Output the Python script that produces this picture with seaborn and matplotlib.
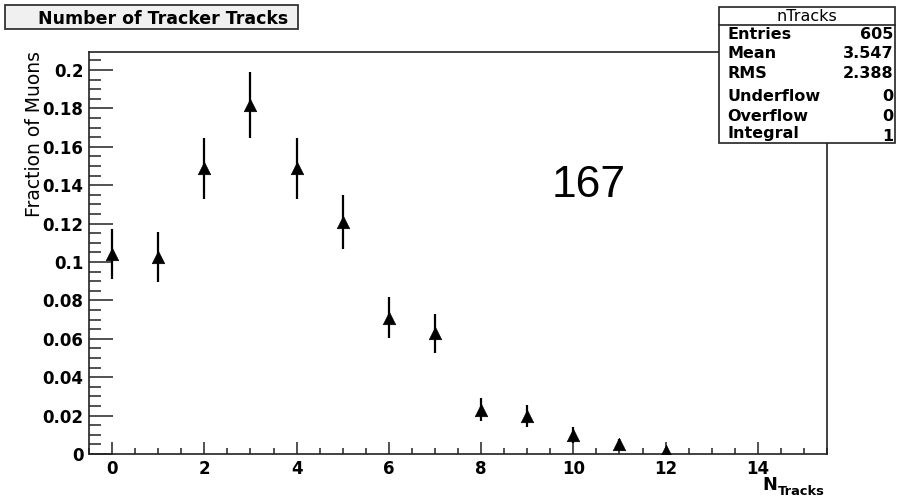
import numpy as np
import pandas as pd
import matplotlib
matplotlib.use("Agg")
import matplotlib.pyplot as plt
import seaborn as sns
from matplotlib.patches import Rectangle
from matplotlib.lines import Line2D
from matplotlib.ticker import MultipleLocator

# Histogram contents (number of tracker tracks per muon)
n_tracks = [0, 1, 2, 3, 4, 5, 6, 7, 8, 9, 10, 11, 12]
counts = [63, 62, 90, 110, 90, 73, 43, 38, 14, 12, 6, 3, 1]
entries = 605
# errors on the fraction
errors = [0.0131, 0.0130, 0.0157, 0.0173, 0.0157, 0.0141, 0.0108,
          0.0102, 0.0062, 0.0057, 0.0040, 0.0029, 0.0017]

stat_names = ["Entries", "Mean", "RMS", "Underflow", "Overflow", "Integral"]
stat_values = ["605", "3.547", "2.388", "0", "0", "1"]

df = pd.DataFrame({"n": n_tracks, "frac": np.array(counts) / entries, "err": errors})

sns.set_style("white")
plt.rcParams["font.family"] = ["DejaVu Sans"]
plt.rcParams["text.color"] = "black"

W, H = 897, 498
fig = plt.figure(figsize=(W / 100, H / 100), dpi=100)

def fx(px):
    return px / W

def fy(py):
    return (H - py) / H

# plot frame in pixels: left 89, right 827, top 52, bottom 454
ax = fig.add_axes([fx(89), fy(454), fx(827 - 89), (454 - 52) / H])

ax.errorbar(df["n"], df["frac"], yerr=df["err"], fmt="none",
            ecolor="black", elinewidth=1.6, capsize=0, zorder=2)
sns.scatterplot(data=df, x="n", y="frac", marker="^", s=80, color="black",
                edgecolor="black", linewidth=0.5, ax=ax, zorder=3, legend=False)

ax.set_xlim(-0.5, 15.5)
ax.set_ylim(0, 0.2094)
ax.set_xlabel("")
ax.set_ylabel("")

ax.xaxis.set_major_locator(MultipleLocator(2))
ax.xaxis.set_minor_locator(MultipleLocator(0.5))
ax.yaxis.set_major_locator(MultipleLocator(0.02))
ax.yaxis.set_minor_locator(MultipleLocator(0.005))
ax.set_xticks(range(0, 15, 2))
ax.set_xticklabels([str(v) for v in range(0, 15, 2)])
yt = [round(0.02 * i, 2) for i in range(11)]
ax.set_yticks(yt)
ax.set_yticklabels(["0" if v == 0 else f"{v:g}" for v in yt])

ax.tick_params(axis="both", which="both", left=True, bottom=True,
               right=False, top=False, color="#222222", labelcolor="black")
ax.tick_params(axis="y", which="major", direction="in", length=17, width=1.1,
               labelsize=12, pad=4)
ax.tick_params(axis="y", which="minor", direction="in", length=8.5, width=1.1)
ax.tick_params(axis="x", which="major", direction="in", length=8.5, width=1.1,
               labelsize=12, pad=4)
ax.tick_params(axis="x", which="minor", direction="in", length=4.3, width=1.1)
for lab in ax.get_xticklabels() + ax.get_yticklabels():
    lab.set_fontweight("bold")

for s in ax.spines.values():
    s.set_color("#222222")
    s.set_linewidth(1.2)

# axis titles
fig.text(fx(34), fy(134), "Fraction of Muons", rotation=90, ha="center",
         va="center", fontsize=13.5)
fig.text(fx(762), fy(490), "N", fontsize=12.8, fontweight="bold",
         ha="left", va="baseline")
fig.text(fx(778), fy(495), "Tracks", fontsize=9.4, fontweight="bold",
         ha="left", va="baseline")

# title box
fig.add_artist(Rectangle((fx(5), fy(29)), fx(293), 24 / H, transform=fig.transFigure,
                         facecolor="#f0f0f0", edgecolor="#333333", linewidth=1.3))
fig.text(fx(38), fy(24), "Number of Tracker Tracks", fontsize=12.5,
         fontweight="bold", ha="left", va="baseline")

# stats box
bx0, bx1, by0, by1 = 719, 895, 7, 143
fig.add_artist(Rectangle((fx(bx0), fy(by1)), fx(bx1 - bx0), (by1 - by0) / H,
                         transform=fig.transFigure, facecolor="white",
                         edgecolor="#222222", linewidth=1.2, zorder=5))
fig.add_artist(Line2D([fx(bx0), fx(bx1)], [fy(25), fy(25)], transform=fig.transFigure,
                      color="#222222", linewidth=1.2, zorder=6))
fig.text(fx((bx0 + bx1) / 2), fy(21), "nTracks", fontsize=11.5, ha="center",
         va="baseline", zorder=7)
row_y = [39, 58, 78, 101, 121, 138]
for name, val, yy in zip(stat_names, stat_values, row_y):
    fig.text(fx(727), fy(yy), name, fontsize=11.5, fontweight="bold",
             ha="left", va="baseline", zorder=7)
    off = 3 if name == "Integral" else 0
    fig.text(fx(893), fy(yy + off), val, fontsize=11.5, fontweight="bold",
             ha="right", va="baseline", zorder=7)

# slide number
fig.text(fx(552), fy(197), "167", fontsize=32, family="Liberation Sans",
         ha="left", va="baseline")

fig.savefig("out.png", dpi=100)
